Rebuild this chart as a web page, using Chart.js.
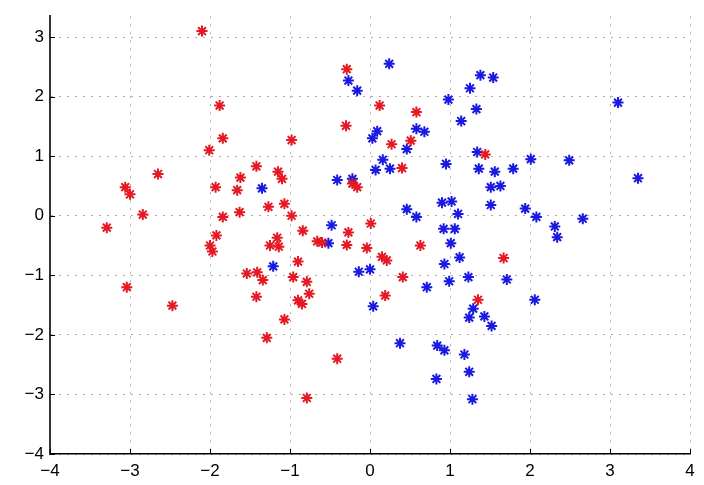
<!DOCTYPE html>
<html><head><meta charset="utf-8">
<script src="https://cdn.jsdelivr.net/npm/chart.js@4.4.1/dist/chart.umd.min.js"></script>
<style>html,body{margin:0;padding:0;background:#fff}canvas{display:block}</style>
</head><body>
<canvas id="c" width="704" height="485"></canvas>
<script>
const xTicks = [-4, -3, -2, -1, 0, 1, 2, 3, 4];
const yTicks = [-4, -3, -2, -1, 0, 1, 2, 3];

const redX = [-2.1,-1.88,-1.84,-2.01,-2.65,-3.06,-3.0,-2.84,-3.29,-3.04,-2.47,-1.93,-1.66,-1.84,-1.63,-1.92,-2.0,-1.97,-1.62,-0.29,-0.3,-0.98,0.12,0.58,0.27,0.51,0.4,-1.42,-1.15,-1.1,-1.27,-1.07,-0.98,-0.84,-1.16,-1.25,-1.14,-0.66,-0.6,-0.27,-0.29,0.01,-0.04,0.15,0.21,0.63,-0.9,-1.54,-1.41,-1.34,-0.96,-0.79,-0.76,-0.9,-0.85,-1.42,-1.07,0.41,0.19,-1.29,-0.41,-0.79,-0.16,-0.22,1.44,1.67,1.35];
const redY = [3.1,1.85,1.30,1.10,0.70,0.48,0.36,0.02,-0.2,-1.2,-1.51,0.48,0.43,-0.02,0.06,-0.33,-0.5,-0.6,0.64,2.46,1.51,1.27,1.85,1.74,1.2,1.26,0.8,0.83,0.74,0.62,0.15,0.2,0.0,-0.25,-0.37,-0.5,-0.52,-0.43,-0.45,-0.28,-0.49,-0.13,-0.54,-0.69,-0.75,-0.5,-0.77,-0.97,-0.95,-1.08,-1.03,-1.11,-1.31,-1.42,-1.48,-1.36,-1.74,-1.03,-1.34,-2.05,-2.4,-3.06,0.48,0.54,1.03,-0.71,-1.41];

const blueX = [0.24,-0.27,-0.16,0.98,1.14,0.58,0.68,0.09,0.03,0.46,0.95,0.16,0.07,0.25,1.38,1.54,1.25,1.33,3.1,1.34,2.01,2.49,1.36,1.56,1.79,3.35,1.51,1.63,0.9,1.02,1.51,1.1,1.94,2.08,2.66,2.31,2.34,0.92,1.06,1.01,1.12,0.93,1.23,0.99,1.71,2.06,1.29,1.24,1.43,1.52,1.18,1.24,1.28,0.375,0.84,0.93,0.83,0.04,-1.35,-0.52,-0.48,-1.21,-0.14,0.0,0.71,0.46,0.58,-0.41,-0.22];
const blueY = [2.55,2.27,2.1,1.95,1.59,1.46,1.41,1.42,1.3,1.12,0.87,0.94,0.77,0.79,2.36,2.32,2.14,1.79,1.9,1.07,0.95,0.93,0.79,0.74,0.79,0.63,0.48,0.5,0.22,0.24,0.18,0.03,0.12,-0.02,-0.05,-0.18,-0.36,-0.22,-0.22,-0.46,-0.7,-0.81,-1.03,-1.1,-1.07,-1.41,-1.56,-1.71,-1.69,-1.85,-2.33,-2.62,-3.08,-2.14,-2.18,-2.26,-2.74,-1.52,0.46,-0.46,-0.16,-0.85,-0.94,-0.9,-1.2,0.11,-0.02,0.6,0.62];

const toPts = (xs, ys) => xs.map((x, i) => ({x: x, y: ys[i]}));
const fmt = v => v < 0 ? '\u2212' + Math.abs(v) : String(v);

const inTicks = {
  id: 'inTicks',
  afterDraw(chart) {
    const {ctx, chartArea: a} = chart;
    const sx = chart.scales.x, sy = chart.scales.y;
    ctx.save();
    ctx.strokeStyle = '#000';
    ctx.lineWidth = 1;
    ctx.beginPath();
    sx.ticks.forEach(t => { const p = Math.round(sx.getPixelForValue(t.value)) + 0.5; ctx.moveTo(p, a.bottom); ctx.lineTo(p, a.bottom - 5); });
    sy.ticks.forEach(t => { const p = Math.round(sy.getPixelForValue(t.value)) + 0.5; ctx.moveTo(a.left, p); ctx.lineTo(a.left + 5, p); });
    ctx.stroke();
    ctx.restore();
  }
};

const font = {family: '"Liberation Sans", Arial, Helvetica, sans-serif', size: 17};

new Chart(document.getElementById('c'), {
  type: 'scatter',
  data: {
    datasets: [
      {data: toPts(redX, redY), pointStyle: 'star', radius: 5.5, borderWidth: 2, borderColor: 'rgb(228,25,35)', backgroundColor: 'rgb(228,25,35)'},
      {data: toPts(blueX, blueY), pointStyle: 'star', radius: 5.5, borderWidth: 2, borderColor: 'rgb(25,25,225)', backgroundColor: 'rgb(25,25,225)'}
    ]
  },
  options: {
    responsive: false,
    animation: false,
    events: [],
    layout: {padding: {top: 5, right: 14, left: 0, bottom: 0}},
    plugins: {legend: {display: false}, tooltip: {enabled: false}},
    scales: {
      x: {
        type: 'linear', min: -4, max: 4,
        afterFit: s => { s.height = 31; },
        afterBuildTicks: s => { s.ticks = xTicks.map(v => ({value: v})); },
        ticks: {stepSize: 1, padding: 7, color: '#000', font: font, callback: fmt, maxRotation: 0, autoSkip: false},
        grid: {color: 'rgba(0,0,0,0.33)', lineWidth: 1, drawTicks: false},
        border: {display: true, color: '#000', width: 1.5, dash: [2, 6]}
      },
      y: {
        type: 'linear', min: -4, max: 3.35,
        afterFit: s => { s.width = 50; },
        afterBuildTicks: s => { s.ticks = yTicks.map(v => ({value: v})); },
        ticks: {stepSize: 1, padding: 6, color: '#000', font: font, callback: fmt, autoSkip: false},
        grid: {color: 'rgba(0,0,0,0.33)', lineWidth: 1, drawTicks: false},
        border: {display: true, color: '#333', width: 2, dash: [2, 6]}
      }
    }
  },
  plugins: [inTicks]
});
</script>
</body></html>
